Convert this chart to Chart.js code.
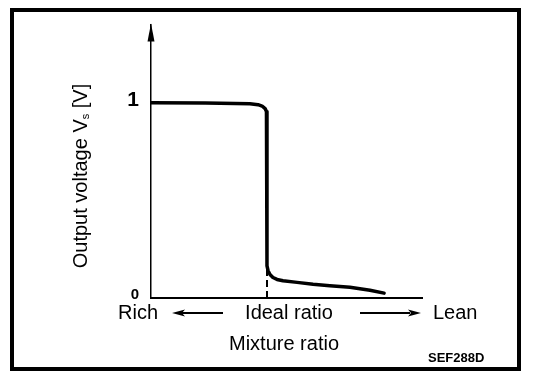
<!DOCTYPE html>
<html>
<head>
<meta charset="utf-8">
<title>SEF288D</title>
<script src="https://cdn.jsdelivr.net/npm/chart.js@4/dist/chart.umd.min.js"></script>
<style>
    body { margin: 0; background: #fff; }
    canvas { display: block; }
</style>
</head>
<body>
<canvas id="sensorChart" width="544" height="382"></canvas>
<script>
// mixture ratio (0 = rich end, 100 = axis end) vs output voltage
const mixtureX = [0, 20, 36.5, 39.5, 41.0, 42.1, 42.6, 42.8, 42.8, 43.2, 43.9, 45.0, 46.5, 48.7, 53.9, 59.8, 66.0, 73.4, 80.8, 86.0];
const voltageY = [1.0, 0.998, 0.995, 0.99, 0.983, 0.97, 0.955, 0.93, 0.165, 0.14, 0.12, 0.105, 0.095, 0.088, 0.08, 0.07, 0.063, 0.055, 0.04, 0.025];
const idealX = [42.8, 42.8];
const idealY = [0, 0.15];
const yTicks = [0, 1];
const yTickLabels = ['0', '1'];
const xWords = ['Rich', 'Ideal ratio', 'Lean'];
const xTitle = 'Mixture ratio';
const figCode = 'SEF288D';

const FONT = '"Liberation Sans", Arial, sans-serif';

function toPoints(xs, ys) {
    return xs.map((x, i) => ({ x: x, y: ys[i] }));
}

function arrowHead(ctx, x, y, dir) {
    // dir: 1 = pointing right, -1 = left
    ctx.beginPath();
    ctx.moveTo(x, y);
    ctx.lineTo(x - dir * 13, y - 3.5);
    ctx.lineTo(x - dir * 10, y);
    ctx.lineTo(x - dir * 13, y + 3.5);
    ctx.closePath();
    ctx.fill();
}

const decorPlugin = {
    id: 'decor',
    afterDraw(chart) {
        const ctx = chart.ctx;
        const area = chart.chartArea;
        const xs = chart.scales.x;
        ctx.save();
        ctx.fillStyle = '#000';
        ctx.strokeStyle = '#000';

        // frame
        ctx.lineWidth = 4;
        ctx.strokeRect(12, 10, 507, 359);

        // arrow on the voltage axis
        const ax = chart.scales.y.left + chart.scales.y.width;
        ctx.beginPath();
        ctx.moveTo(ax, area.top - 1);
        ctx.lineTo(ax - 3.5, area.top + 17);
        ctx.lineTo(ax + 3.5, area.top + 17);
        ctx.closePath();
        ctx.fill();

        // Rich <-- Ideal ratio --> Lean
        const rowY = 313;
        ctx.font = '20px ' + FONT;
        ctx.textBaseline = 'middle';
        ctx.textAlign = 'left';
        ctx.fillText(xWords[0], 118, rowY);
        ctx.fillText(xWords[2], 433, rowY);
        ctx.textAlign = 'center';
        ctx.fillText(xWords[1], xs.getPixelForValue(idealX[0]) + 22, rowY);

        ctx.lineWidth = 2;
        ctx.beginPath();
        ctx.moveTo(182, rowY);
        ctx.lineTo(223, rowY);
        ctx.moveTo(360, rowY);
        ctx.lineTo(410, rowY);
        ctx.stroke();
        arrowHead(ctx, 172, rowY, -1);
        arrowHead(ctx, 421, rowY, 1);

        ctx.fillText(xTitle, 284, 344);

        ctx.font = 'bold 13px ' + FONT;
        ctx.textAlign = 'left';
        ctx.fillText(figCode, 428, 358);

        // Output voltage Vs [V]
        ctx.translate(81, 176);
        ctx.rotate(-Math.PI / 2);
        const big = '20px ' + FONT;
        const small = '11px ' + FONT;
        const p1 = 'Output voltage V', p2 = 's', p3 = ' [V]';
        ctx.font = big;
        const w1 = ctx.measureText(p1).width, w3 = ctx.measureText(p3).width;
        ctx.font = small;
        const w2 = ctx.measureText(p2).width;
        let x0 = -(w1 + w2 + w3) / 2;
        ctx.textAlign = 'left';
        ctx.font = big;
        ctx.fillText(p1, x0, 0);
        ctx.font = small;
        ctx.fillText(p2, x0 + w1, 5);
        ctx.font = big;
        ctx.fillText(p3, x0 + w1 + w2, 0);
        ctx.restore();
    }
};

const ctx = document.getElementById('sensorChart').getContext('2d');
new Chart(ctx, {
    type: 'scatter',
    data: {
        datasets: [{
            data: toPoints(mixtureX, voltageY),
            showLine: true,
            borderColor: '#000',
            borderWidth: 3.5,
            borderCapStyle: 'round',
            borderJoinStyle: 'round',
            pointRadius: 0,
            tension: 0
        }, {
            data: toPoints(idealX, idealY),
            showLine: true,
            borderColor: '#000',
            borderWidth: 2,
            borderDash: [7, 4],
            pointRadius: 0
        }]
    },
    options: {
        responsive: false,
        animation: false,
        layout: {
            padding: { left: 111, right: 122, top: 18, bottom: 84 }
        },
        plugins: {
            legend: { display: false },
            tooltip: { enabled: false }
        },
        scales: {
            x: {
                type: 'linear',
                min: 0,
                max: 100,
                grid: { display: false, drawTicks: false },
                border: { display: true, color: '#000', width: 2 },
                ticks: { display: false },
                afterFit: s => { s.height = 0; }
            },
            y: {
                type: 'linear',
                min: 0,
                max: 1.4,
                grid: { display: false, drawTicks: false },
                border: { display: true, color: '#000', width: 1.5 },
                afterBuildTicks: s => { s.ticks = yTicks.map(v => ({ value: v })); },
                ticks: {
                    color: '#000',
                    padding: 12,
                    labelOffset: -3,
                    callback: v => yTickLabels[yTicks.indexOf(v)],
                    font: c => c.tick && c.tick.value === 1
                        ? { family: FONT, size: 21, weight: 'bold' }
                        : { family: FONT, size: 15, weight: 'bold' }
                },
                afterFit: s => { s.width = 40; }
            }
        }
    },
    plugins: [decorPlugin]
});
</script>
</body>
</html>
